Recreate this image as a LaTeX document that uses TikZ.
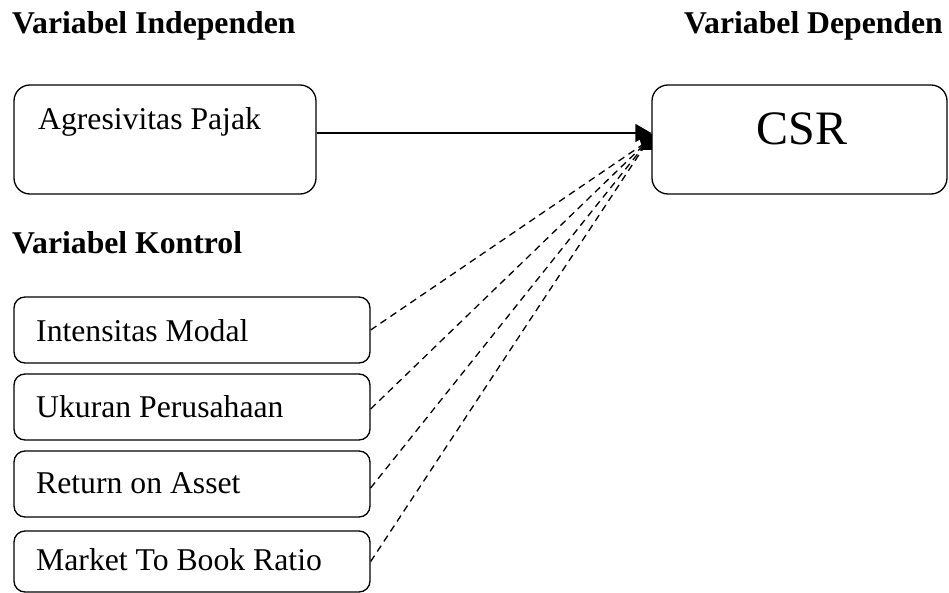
\documentclass[tikz,border=0pt]{standalone}
\usepackage{fontspec}
\setmainfont{Liberation Serif}
\usetikzlibrary{arrows.meta}
\begin{document}
\begin{tikzpicture}[x=1pt,y=-1pt,
  bigbox/.style={draw, line width=1.3pt, rounded corners=16pt, inner sep=0pt},
  ctlbox/.style={draw, line width=1.3pt, rounded corners=11pt, inner sep=0pt, minimum width=356pt, minimum height=66pt},
  lbl/.style={anchor=base west, inner sep=0pt, font=\fontsize{31.7}{38}\selectfont},
  head/.style={anchor=base west, inner sep=0pt, font=\fontsize{31.7}{38}\selectfont\bfseries},
  dashlink/.style={line width=1.3pt, dash pattern=on 7pt off 5pt},
  solidlink/.style={line width=1.5pt, -{Triangle[length=16pt,width=18pt]}}
]
\useasboundingbox (0,0) rectangle (949,593);
% headings
\node[head] (hind) at (12,34) {Variabel Independen};
\node[head] (hdep) at (684,34) {Variabel Dependen};
\node[head] (hkon) at (12,254) {Variabel Kontrol};
% main boxes
\node[bigbox, minimum width=302pt, minimum height=109pt] (agr) at (165,139.5) {};
\node[lbl] (agrt) at (38,130) {Agresivitas Pajak};
\node[bigbox, minimum width=295pt, minimum height=109pt] (csr) at (799.5,139.5) {};
\node[anchor=base, inner sep=0pt, font=\fontsize{48}{56}\selectfont] (csrt) at (802,145) {CSR};
% control boxes
\node[ctlbox] (c1) at (192,330) {};
\node[ctlbox] (c2) at (192,407) {};
\node[ctlbox] (c3) at (192,484) {};
\node[ctlbox, minimum height=61pt] (c4) at (192,561.5) {};
\node[lbl] (t1) at (36,341) {Intensitas Modal};
\node[lbl] (t2) at (36,417) {Ukuran Perusahaan};
\node[lbl] (t3) at (36,493) {Return on Asset};
\node[lbl] (t4) at (36,570) {Market To Book Ratio};
% connectors
\coordinate (meet) at (648,141);
\draw[dashlink] (c1.east) -- (meet);
\draw[dashlink] ([yshift=-2pt]c2.east) -- (meet);
\draw[dashlink] ([yshift=-4pt]c3.east) -- (meet);
\draw[dashlink] (c4.east) -- (meet);
\fill (636,128) -- (652,134) -- (652,150) -- (643,150) -- cycle;
\draw[solidlink] (agr.east |- 0,133) -- (csr.west |- 0,133);
\end{tikzpicture}
\end{document}
